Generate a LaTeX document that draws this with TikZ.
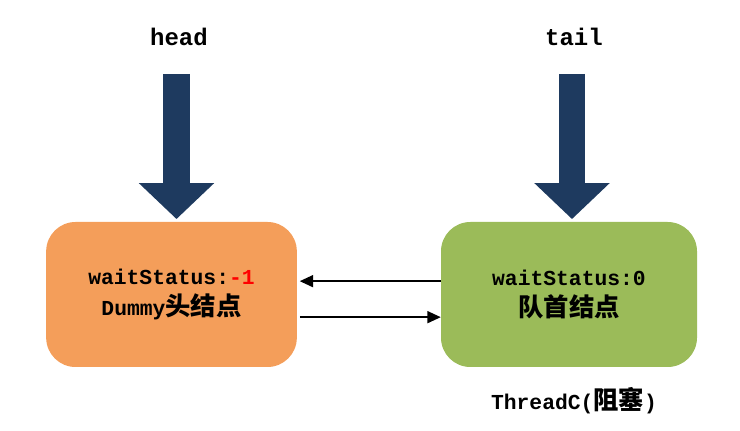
\documentclass[tikz,border=0pt]{standalone}
\usepackage{fontspec}
\usepackage{tikz}
\usetikzlibrary{arrows.meta}
\newfontfamily\monofont{Liberation Mono}
\newfontfamily\cjkfont{Noto Sans CJK SC}
\definecolor{dummyorange}{HTML}{F49E5A}
\definecolor{queuegreen}{HTML}{9BBB59}
\definecolor{pointerblue}{HTML}{1E3A5F}
\newcommand{\cjk}[1]{{\cjkfont\fontsize{19}{23}\selectfont #1}}
\tikzset{
  qnode/.style={rounded corners=22pt, minimum height=108.75pt, inner sep=0pt, align=center,
    font=\monofont\bfseries\fontsize{16}{23}\selectfont},
  pointer/.style={font=\monofont\bfseries\fontsize{18}{20}\selectfont},
  bigarrow/.style={pointerblue, line width=20pt, shorten >=2pt, -{Triangle[length=27pt,width=55pt]}},
  link/.style={line width=1.1pt, -{Triangle[length=10pt,width=9pt]}}
}

\begin{document}
\begin{tikzpicture}[x=0.75pt, y=-0.75pt]
\useasboundingbox (0,0) rectangle (740,431);
% queue nodes
\node[qnode, fill=dummyorange, minimum width=188pt] (dummy) at (171.5,294.5)
  {waitStatus:\textcolor{red}{-1}\\Dummy\cjk{头结点}};
\node[qnode, fill=queuegreen, minimum width=192pt] (first) at (569,294.5)
  {waitStatus:0\\\cjk{队首结点}};
\node[font=\monofont\bfseries\fontsize{16}{20}\selectfont] (thread) at (574,401) {ThreadC(\cjk{阻塞})};
% head and tail pointers
\node[pointer] (head) at (179,37) {head};
\node[pointer] (tail) at (574,37) {tail};
\coordinate (headstart) at (176.5,74);
\coordinate (tailstart) at (572,74);
\draw[bigarrow] (headstart) -- (headstart |- dummy.north);
\draw[bigarrow] (tailstart) -- (tailstart |- first.north);
% prev / next links
\draw[link, shorten >=2pt] ([yshift=10pt]first.west) -- ([yshift=10pt]dummy.east);
\draw[link, shorten <=2pt] ([yshift=-17pt]dummy.east) -- ([yshift=-17pt]first.west);
\end{tikzpicture}
\end{document}
